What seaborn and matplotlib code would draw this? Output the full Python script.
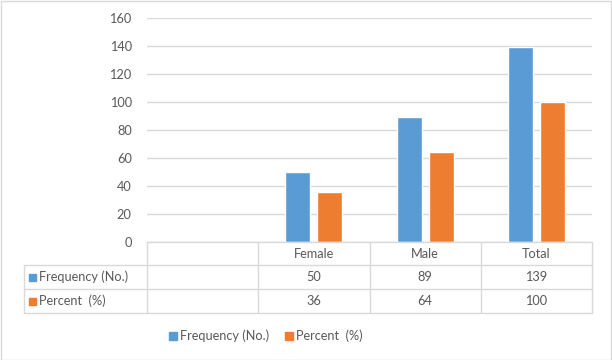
import matplotlib
matplotlib.use("Agg")
import matplotlib.pyplot as plt
import matplotlib.transforms as mtransforms
from matplotlib.lines import Line2D
from matplotlib.patches import Rectangle
import seaborn as sns
import pandas as pd

categories = ["", "Female", "Male", "Total"]
data_categories = ["Female", "Male", "Total"]
series_names = ["Frequency (No.)", "Percent  (%)"]
frequency = [50, 89, 139]
percent = [36, 64, 100]
yticks = [0, 20, 40, 60, 80, 100, 120, 140, 160]

colors = ["#5B9BD5", "#ED7D31"]
text_color = "#595959"
grid_color = "#D9D9D9"

sns.set_theme(style="white")
plt.rcParams["font.family"] = ["Lato", "DejaVu Sans"]
FS = 9.2

df = pd.DataFrame({
    "category": data_categories * 2,
    "series": [series_names[0]] * 3 + [series_names[1]] * 3,
    "value": frequency + percent,
})

W, H = 612, 360
fig = plt.figure(figsize=(W / 100, H / 100), dpi=100)

def fx(x):
    return x / W

def fy(y):
    return 1 - y / H

ax = fig.add_axes([fx(147), fy(242), fx(592) - fx(147), fy(18) - fy(242)])
sns.barplot(data=df, x="category", y="value", hue="series", order=categories,
            hue_order=series_names, palette=colors, width=0.576, gap=0.22,
            ax=ax, legend=False, saturation=1)
ax.set_xlim(-0.5, 3.5)
ax.set_ylim(0, 160)
ax.set_yticks(yticks)
ax.set_yticklabels([str(t) for t in yticks], color=text_color, fontsize=FS)
ax.tick_params(axis="y", length=0, pad=11)
ax.set_xticks([])
ax.set_xlabel("")
ax.set_ylabel("")
for s in ax.spines.values():
    s.set_visible(False)
ax.yaxis.grid(True, color=grid_color, linewidth=1)
ax.set_axisbelow(True)

# data table
tr = mtransforms.blended_transform_factory(ax.transData, fig.transFigure)
bounds = [-0.5, 0.5, 1.5, 2.5, 3.5]
y_top, y_r1, y_r2, y_bot = 242, 265, 289, 313

def fline(xs, ys, transform):
    fig.add_artist(Line2D(xs, ys, transform=transform, color=grid_color, linewidth=1))

fline([bounds[0], bounds[-1]], [fy(y_top), fy(y_top)], tr)
for y in (y_r1, y_r2, y_bot):
    fline([fx(24), fx(592)], [fy(y), fy(y)], fig.transFigure)
for b in bounds:
    fline([b, b], [fy(y_top), fy(y_bot)], tr)
fline([fx(24), fx(24)], [fy(y_r1), fy(y_bot)], fig.transFigure)

for i, c in enumerate(categories):
    fig.text(i, fy((y_top + y_r1) / 2), c, transform=tr, ha="center", va="center",
             color=text_color, fontsize=FS)

rows = [frequency, percent]
row_y = [(y_r1 + y_r2) / 2, (y_r2 + y_bot) / 2]
for r, (name, vals) in enumerate(zip(series_names, rows)):
    yc = fy(row_y[r])
    fig.add_artist(Rectangle((fx(29), yc - 3.5 / H), 7 / W, 7 / H,
                             transform=fig.transFigure, color=colors[r]))
    fig.text(fx(39), yc, name, ha="left", va="center", color=text_color, fontsize=FS)
    for i, v in enumerate(vals):
        fig.text(i + 1, yc, str(v), transform=tr, ha="center", va="center",
                 color=text_color, fontsize=FS)

# legend
handles = [Rectangle((0, 0), 1, 1, color=c) for c in colors]
fig.legend(handles, series_names, loc="center", bbox_to_anchor=(fx(266), fy(336)),
           ncol=2, frameon=False, fontsize=FS, labelcolor=text_color,
           handlelength=0.6, handleheight=0.6, handletextpad=0.3, columnspacing=1.2)

# outer border
fig.add_artist(Rectangle((0.5 / W, 0.5 / H), 1 - 1.5 / W, 1 - 1.5 / H,
                         transform=fig.transFigure, fill=False,
                         edgecolor=grid_color, linewidth=1))

fig.savefig("out.png", dpi=100)
